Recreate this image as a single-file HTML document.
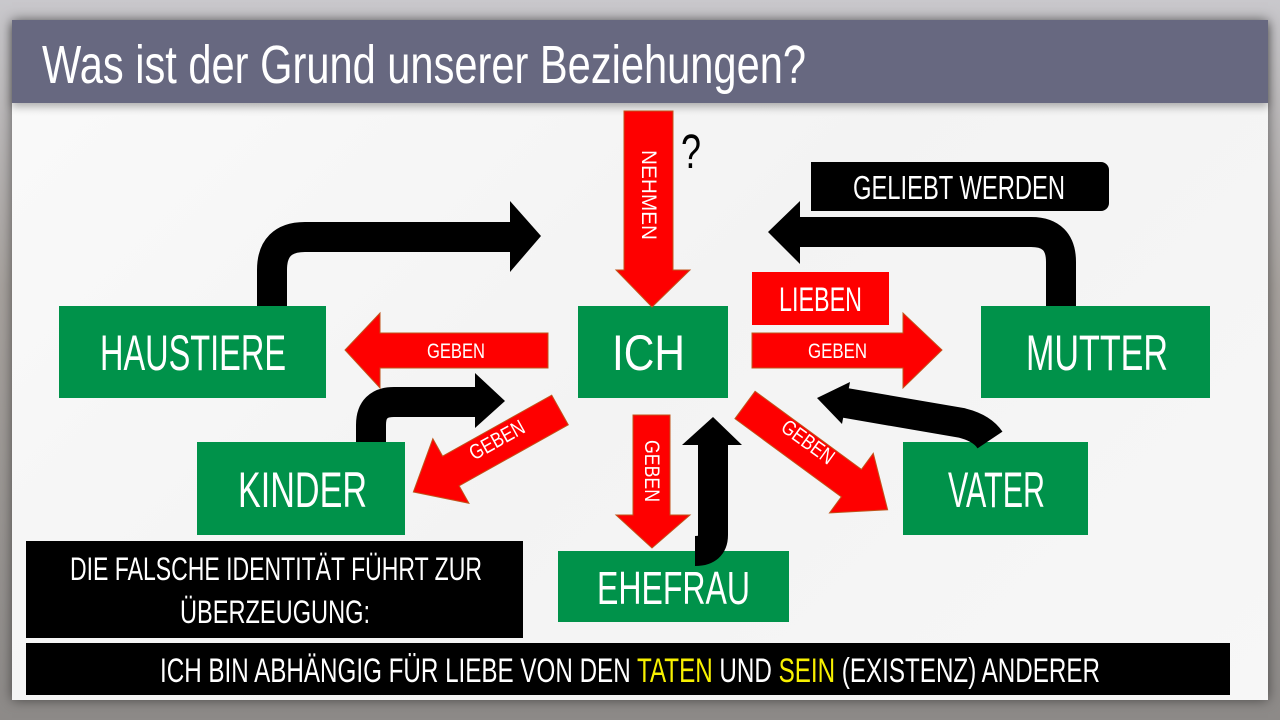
<!DOCTYPE html>
<html><head><meta charset="utf-8"><style>
body{margin:0;width:1280px;height:720px;overflow:hidden;background:#8a8580;font-family:"Liberation Sans",sans-serif;}
.bg{position:absolute;inset:0;background:linear-gradient(180deg,#c9c8cc 0%,#a7a29e 40%,#8d8a88 100%);}
.slide{position:absolute;left:12px;top:20px;width:1256px;height:680px;background:linear-gradient(135deg,#fafafa,#f3f3f3 50%,#f7f7f7);box-shadow:0 0 12px rgba(0,0,0,.5);}
.title{position:absolute;left:12px;top:20px;width:1256px;height:83px;background:#676880;box-shadow:0 4px 8px rgba(0,0,0,.3);}
.b{position:absolute;}
</style></head><body>
<div class="bg"></div>
<div class="slide"></div>
<div class="title"></div>
<div class="b" style="left:811px;top:162px;width:298px;height:49px;background:#000;border-radius:0 8px 8px 0"></div>
<div class="b" style="left:752px;top:272px;width:137px;height:53px;background:#fe0000"></div>
<div class="b" style="left:59px;top:306px;width:267px;height:92px;background:#00924a"></div>
<div class="b" style="left:578px;top:306px;width:150px;height:92px;background:#00924a"></div>
<div class="b" style="left:981px;top:306px;width:229px;height:92px;background:#00924a"></div>
<div class="b" style="left:197px;top:442px;width:208px;height:93px;background:#00924a"></div>
<div class="b" style="left:903px;top:442px;width:185px;height:93px;background:#00924a"></div>
<div class="b" style="left:558px;top:551px;width:231px;height:71px;background:#00924a"></div>
<div class="b" style="left:26px;top:541px;width:497px;height:97px;background:#000"></div>
<div class="b" style="left:26px;top:643px;width:1204px;height:52px;background:#000"></div>
<svg width="1280" height="720" style="position:absolute;left:0;top:0" font-family="Liberation Sans, sans-serif">
<g fill="none" stroke="#000" stroke-width="30">
<path d="M272 306 V270 Q272 237 305 237 H512"/>
<path d="M1061 306 V262 Q1061 232 1031 232 H800"/>
<path d="M371 442 V425 Q371 402 394 402 H478"/>
<path d="M695 551 Q713 551 713 535 V445"/>
<path d="M990 440 Q982 428 962 423 L840 402"/>
</g>
<g fill="#000">
<polygon points="510,201 541,236 510,272"/>
<polygon points="800,201 768,232 800,264"/>
<polygon points="475,373 505,401 475,428"/>
<polygon points="682,445 713,417 742,445"/>
<polygon points="817,398 850,382 842,424"/>
</g>
<g fill="#fe0000" stroke="#c0541b" stroke-width="1">
<polygon points="624,111 673,111 673,270 690,270 652,307 616,270 624,270"/>
<polygon points="548,333 548,368 380,368 380,388 345,350 380,313 380,333"/>
<polygon points="752,333 752,368 903,368 903,388 942,350 903,313 903,333"/>
<polygon points="633,415 670,415 670,515 690,515 652,548 616,515 633,515"/>
<g transform="translate(560,410) rotate(150.8)"><polygon points="0,-17 125,-17 125,-37 168,0 125,37 125,17 0,17"/></g>
<g transform="translate(745,405) rotate(36.3)"><polygon points="0,-17 132,-17 132,-37 177,0 132,37 132,17 0,17"/></g>
</g>
<g fill="#fff" lengthAdjust="spacingAndGlyphs">
<text x="42" y="83" font-size="54" textLength="764" lengthAdjust="spacingAndGlyphs">Was ist der Grund unserer Beziehungen?</text>
<text x="100" y="370" font-size="50" textLength="186" lengthAdjust="spacingAndGlyphs">HAUSTIERE</text>
<text x="612" y="370" font-size="50" textLength="73" lengthAdjust="spacingAndGlyphs">ICH</text>
<text x="1026" y="370" font-size="50" textLength="142" lengthAdjust="spacingAndGlyphs">MUTTER</text>
<text x="238" y="507" font-size="50" textLength="129" lengthAdjust="spacingAndGlyphs">KINDER</text>
<text x="948" y="507" font-size="50" textLength="97" lengthAdjust="spacingAndGlyphs">VATER</text>
<text x="597" y="604" font-size="46" textLength="153" lengthAdjust="spacingAndGlyphs">EHEFRAU</text>
<text x="853" y="199" font-size="33" textLength="212" lengthAdjust="spacingAndGlyphs">GELIEBT WERDEN</text>
<text x="779" y="311" font-size="34" textLength="83" lengthAdjust="spacingAndGlyphs">LIEBEN</text>
<text x="70" y="580" font-size="32" textLength="412" lengthAdjust="spacingAndGlyphs">DIE FALSCHE IDENTITÄT FÜHRT ZUR</text>
<text x="180" y="623" font-size="32" textLength="190" lengthAdjust="spacingAndGlyphs">ÜBERZEUGUNG:</text>
<text x="160" y="682" font-size="34" textLength="940" lengthAdjust="spacingAndGlyphs">ICH BIN ABHÄNGIG FÜR LIEBE VON DEN <tspan fill="#f7f000">TATEN</tspan> UND <tspan fill="#f7f000">SEIN</tspan> (EXISTENZ) ANDERER</text>
<text x="427" y="358" font-size="21" textLength="58" lengthAdjust="spacingAndGlyphs">GEBEN</text>
<text x="808" y="358" font-size="21" textLength="59" lengthAdjust="spacingAndGlyphs">GEBEN</text>
<text transform="translate(642,150) rotate(90)" font-size="21" textLength="90" lengthAdjust="spacingAndGlyphs">NEHMEN</text>
<text transform="translate(645,440) rotate(90)" font-size="21" textLength="62" lengthAdjust="spacingAndGlyphs">GEBEN</text>
<text transform="translate(497,440) rotate(-29)" font-size="21" text-anchor="middle" dy="7" textLength="60" lengthAdjust="spacingAndGlyphs">GEBEN</text>
<text transform="translate(808,442) rotate(36)" font-size="21" text-anchor="middle" dy="7" textLength="60" lengthAdjust="spacingAndGlyphs">GEBEN</text>
</g>
<text x="829" y="240" font-size="22" fill="#000" textLength="106" lengthAdjust="spacingAndGlyphs">BEKOMMEN</text>
<text x="681" y="168" font-size="48" fill="#000" textLength="20" lengthAdjust="spacingAndGlyphs">?</text>
</svg>
</body></html>
